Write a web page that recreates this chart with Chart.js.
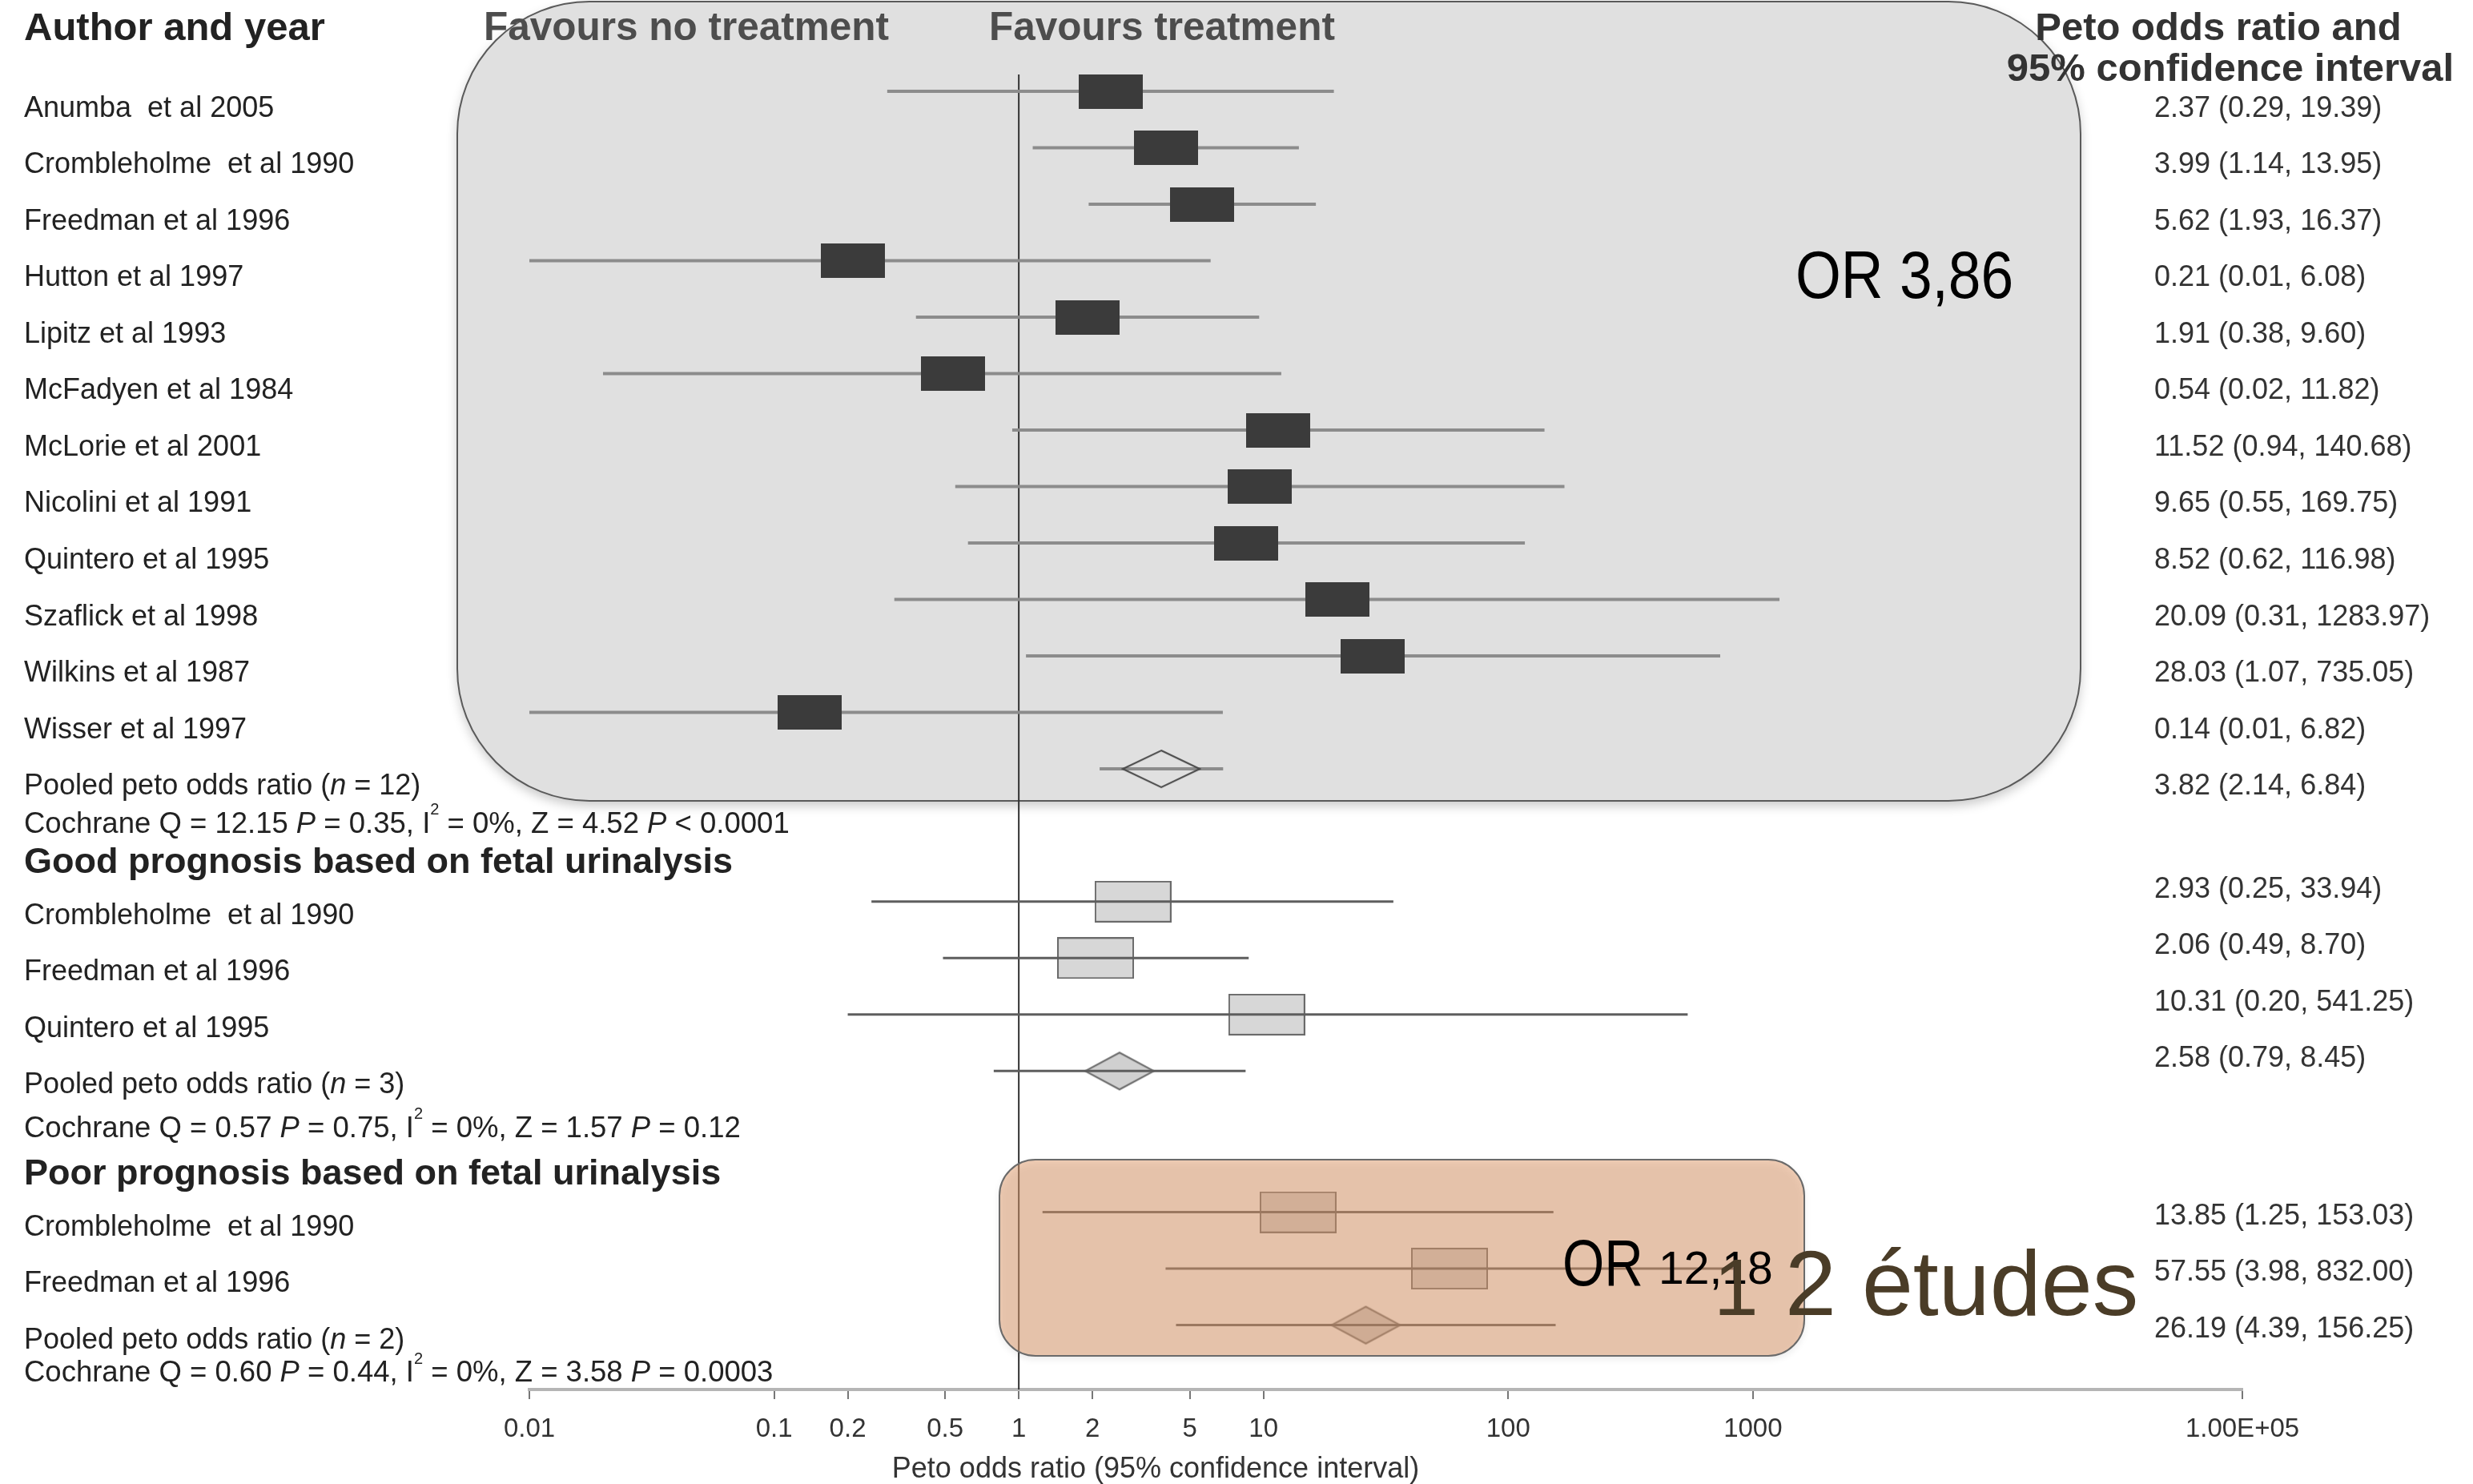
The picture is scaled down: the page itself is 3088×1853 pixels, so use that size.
<!DOCTYPE html>
<html><head><meta charset="utf-8">
<script src="https://cdn.jsdelivr.net/npm/chart.js@4.4.1/dist/chart.umd.min.js"></script>
<style>html,body{margin:0;padding:0;background:#fff;overflow:hidden}canvas{display:block}</style>
</head><body>
<canvas id="c" width="3088" height="1853"></canvas>
<script>
// ---------------- DATA ----------------
const allNames = ['Anumba  et al 2005','Crombleholme  et al 1990','Freedman et al 1996','Hutton et al 1997','Lipitz et al 1993','McFadyen et al 1984','McLorie et al 2001','Nicolini et al 1991','Quintero et al 1995','Szaflick et al 1998','Wilkins et al 1987','Wisser et al 1997'];
const allOR   = [2.37, 3.99, 5.62, 0.21, 1.91, 0.54, 11.52, 9.65, 8.52, 20.09, 28.03, 0.14];
const allLow  = [0.29, 1.14, 1.93, 0.01, 0.38, 0.02, 0.94, 0.55, 0.62, 0.31, 1.07, 0.01];
const allHigh = [19.39, 13.95, 16.37, 6.08, 9.60, 11.82, 140.68, 169.75, 116.98, 1283.97, 735.05, 6.82];

const goodNames = ['Crombleholme  et al 1990','Freedman et al 1996','Quintero et al 1995'];
const goodOR    = [2.93, 2.06, 10.31];
const goodLow   = [0.25, 0.49, 0.20];
const goodHigh  = [33.94, 8.70, 541.25];

const poorNames = ['Crombleholme  et al 1990','Freedman et al 1996'];
const poorOR    = [13.85, 57.55];
const poorLow   = [1.25, 3.98];
const poorHigh  = [153.03, 832.00];

const pooledOR   = [3.82, 2.58, 26.19];
const pooledLow  = [2.14, 0.79, 4.39];
const pooledHigh = [6.84, 8.45, 156.25];
const pooledN    = [12, 3, 2];

const cochraneQ = ['12.15', '0.57', '0.60'];
const cochraneP = ['0.35', '0.75', '0.44'];
const iSquared  = ['0%', '0%', '0%'];
const zStat     = ['4.52', '1.57', '3.58'];
const zP        = ['< 0.0001', '= 0.12', '= 0.0003'];

const groupTitles = [null, 'Good prognosis based on fetal urinalysis', 'Poor prognosis based on fetal urinalysis'];
const tickValues = [0.01, 0.1, 0.2, 0.5, 1, 2, 5, 10, 100, 1000, 100000];
const tickLabels = ['0.01', '0.1', '0.2', '0.5', '1', '2', '5', '10', '100', '1000', '1.00E+05'];
const headerLeft = 'Author and year';
const headerNo = 'Favours no treatment';
const headerYes = 'Favours treatment';
const headerRight = ['Peto odds ratio and', '95% confidence interval'];
const axisTitle = 'Peto odds ratio (95% confidence interval)';
const noteAll = 'OR 3,86';

// ---------------- LAYOUT / STYLE ----------------
const FONT = "'Liberation Sans', Arial, Helvetica, sans-serif";
const Y_MIN = -0.298, Y_MAX = 22.99;
const groupFirstRow = [0, 14.35, 19.85];
const cochraneRow = [12.99, 18.38, 22.71];
const headerRow = [null, 13.66, 19.19];
const leftOffset = [22, 18, 19];
const rightOffset = [22, -15, 5];

const groups = [
  {names: allNames, or: allOR, low: allLow, high: allHigh},
  {names: goodNames, or: goodOR, low: goodLow, high: goodHigh},
  {names: poorNames, or: poorOR, low: poorLow, high: poorHigh}
];
groups.forEach((g, gi) => {
  g.rows = g.names.map((_, k) => groupFirstRow[gi] + k);
  g.pooledRow = groupFirstRow[gi] + g.names.length;
});

function ciData(gi) {
  const g = groups[gi], d = [];
  g.or.forEach((_, k) => d.push({x: g.low[k], y: g.rows[k]}, {x: g.high[k], y: g.rows[k]}, {x: null, y: null}));
  d.push({x: pooledLow[gi], y: g.pooledRow}, {x: pooledHigh[gi], y: g.pooledRow});
  return d;
}
const pts = gi => groups[gi].or.map((v, k) => ({x: v, y: groups[gi].rows[k]}));
const poolPt = gi => [{x: pooledOR[gi], y: groups[gi].pooledRow}];

function boxCanvas(w, h, fill, stroke, lw) {
  const c = document.createElement('canvas'); c.width = w; c.height = h;
  const x = c.getContext('2d'); x.fillStyle = fill; x.fillRect(0, 0, w, h);
  if (stroke) { x.strokeStyle = stroke; x.lineWidth = lw; x.strokeRect(lw/2, lw/2, w - lw, h - lw); }
  return c;
}
function diamondCanvas(w, h, fill, stroke, lw) {
  const c = document.createElement('canvas'); c.width = w; c.height = h;
  const x = c.getContext('2d');
  x.beginPath(); x.moveTo(w/2, lw); x.lineTo(w - lw, h/2); x.lineTo(w/2, h - lw); x.lineTo(lw, h/2); x.closePath();
  if (fill) { x.fillStyle = fill; x.fill(); }
  x.strokeStyle = stroke; x.lineWidth = lw; x.stroke();
  return c;
}
const sqDark = boxCanvas(80, 43, '#3b3b3b');
const dmTop = diamondCanvas(100, 50, null, '#4a4a4a', 2);
const sqLight = boxCanvas(96, 52, '#d7d7d7', '#6a6a6a', 2);
const dmLight = diamondCanvas(90, 50, '#d0d0d0', '#6a6a6a', 2);

function ptSet(data, style, order) {
  return {type: 'scatter', data, pointStyle: style, pointRadius: 5, order, clip: false};
}
function lineSet(data, color, width, order) {
  return {type: 'line', data, borderColor: color, borderWidth: width, pointRadius: 0, spanGaps: false, tension: 0, order, clip: false};
}

function rr(ctx, x, y, w, h, r) {
  ctx.beginPath();
  ctx.moveTo(x + r, y); ctx.arcTo(x + w, y, x + w, y + h, r); ctx.arcTo(x + w, y + h, x, y + h, r);
  ctx.arcTo(x, y + h, x, y, r); ctx.arcTo(x, y, x + w, y, r); ctx.closePath();
}
function runs(ctx, x, y, parts, size) {
  let cx = x;
  for (const p of parts) {
    const fs = p.sup ? Math.round(size * 0.55) : size;
    ctx.font = (p.i ? 'italic ' : '') + fs + 'px ' + FONT;
    ctx.fillText(p.t, cx, p.sup ? y - size * 0.5 : y);
    cx += ctx.measureText(p.t).width;
  }
}

const decor = {
  id: 'decor',
  beforeDraw(chart) {
    const ctx = chart.ctx;
    ctx.save();
    ctx.fillStyle = '#ffffff'; ctx.fillRect(0, 0, chart.width, chart.height);
    ctx.shadowColor = 'rgba(0,0,0,0.22)'; ctx.shadowBlur = 14; ctx.shadowOffsetY = 6;
    rr(ctx, 571, 2, 2027, 998, 165);
    ctx.fillStyle = '#e0e0e0'; ctx.fill();
    ctx.shadowColor = 'transparent';
    ctx.strokeStyle = '#5a5a5a'; ctx.lineWidth = 2; ctx.stroke();
    ctx.restore();
  },
  afterDatasetsDraw(chart) {
    const ctx = chart.ctx;
    ctx.save();
    ctx.shadowColor = 'rgba(0,0,0,0.18)'; ctx.shadowBlur = 10; ctx.shadowOffsetY = 4;
    rr(ctx, 1248, 1448, 1005, 245, 45);
    ctx.fillStyle = 'rgba(225,155,107,0.5)'; ctx.fill();
    ctx.shadowColor = 'transparent';
    ctx.strokeStyle = '#6a6a6a'; ctx.lineWidth = 2; ctx.stroke();
    ctx.restore();
  },
  afterDraw(chart) {
    const ctx = chart.ctx, ys = chart.scales.y;
    const py = r => ys.getPixelForValue(r);
    ctx.save();
    ctx.textBaseline = 'middle';
    // headers
    ctx.textAlign = 'left';
    ctx.fillStyle = '#222'; ctx.font = 'bold 49px ' + FONT;
    ctx.fillText(headerLeft, 30, 36);
    ctx.fillStyle = '#4d4d4d'; ctx.font = 'bold 49.5px ' + FONT;
    ctx.fillText(headerNo, 604, 36);
    ctx.fillText(headerYes, 1235, 36);
    ctx.fillStyle = '#333'; ctx.textAlign = 'center'; ctx.font = 'bold 49px ' + FONT;
    ctx.fillText(headerRight[0], 2770, 36);
    ctx.fillText(headerRight[1], 2785, 87);
    // rows
    ctx.textAlign = 'left';
    groups.forEach((g, gi) => {
      ctx.fillStyle = '#222';
      if (groupTitles[gi]) { ctx.font = 'bold 45px ' + FONT; ctx.fillText(groupTitles[gi], 30, py(headerRow[gi])); }
      ctx.font = '36px ' + FONT;
      g.names.forEach((n, k) => ctx.fillText(n, 30, py(g.rows[k]) + leftOffset[gi]));
      runs(ctx, 30, py(g.pooledRow) + leftOffset[gi], [{t: 'Pooled peto odds ratio ('}, {t: 'n', i: 1}, {t: ' = ' + pooledN[gi] + ')'}], 36);
      runs(ctx, 30, py(cochraneRow[gi]), [
        {t: 'Cochrane Q = ' + cochraneQ[gi] + ' '}, {t: 'P', i: 1}, {t: ' = ' + cochraneP[gi] + ', I'}, {t: '2', sup: 1},
        {t: ' = ' + iSquared[gi] + ', Z = ' + zStat[gi] + ' '}, {t: 'P', i: 1}, {t: ' ' + zP[gi]}], 36.5);
      ctx.fillStyle = '#333'; ctx.font = '36px ' + FONT;
      const fmt = (o, l, h) => o.toFixed(2) + ' (' + l.toFixed(2) + ', ' + h.toFixed(2) + ')';
      g.or.forEach((v, k) => ctx.fillText(fmt(v, g.low[k], g.high[k]), 2690, py(g.rows[k]) + rightOffset[gi]));
      ctx.fillText(fmt(pooledOR[gi], pooledLow[gi], pooledHigh[gi]), 2690, py(g.pooledRow) + rightOffset[gi]);
    });
    // axis title
    ctx.fillStyle = '#333'; ctx.font = '36px ' + FONT; ctx.textAlign = 'center';
    ctx.fillText(axisTitle, 1443, 1835);
    // annotations
    ctx.textAlign = 'left'; ctx.textBaseline = 'alphabetic'; ctx.fillStyle = '#000';
    ctx.save(); ctx.translate(2242, 372); ctx.scale(0.87, 1); ctx.font = '84px ' + FONT; ctx.fillText(noteAll, 0, 0); ctx.restore();
    ctx.save(); ctx.translate(1951, 1605); ctx.scale(0.83, 1); ctx.font = '81px ' + FONT; ctx.fillText('OR', 0, 0); ctx.restore();
    ctx.font = '57px ' + FONT; ctx.fillText('12,18', 2071, 1603);
    ctx.fillStyle = '#4a3c27';
    ctx.font = '100px ' + FONT; ctx.fillText('1', 2140, 1642);
    ctx.font = '115px ' + FONT; ctx.fillText('2 études', 2229, 1642);
    ctx.restore();
  }
};

new Chart(document.getElementById('c'), {
  data: {
    datasets: [
      lineSet([{x: 1, y: Y_MIN}, {x: 1, y: Y_MAX}], '#333333', 2, 100),
      ptSet(pts(1).concat(pts(2)), sqLight, 60),
      ptSet(poolPt(1).concat(poolPt(2)), dmLight, 60),
      lineSet(ciData(0), '#8c8c8c', 4, 40),
      lineSet(ciData(1), '#5e5e5e', 3, 40),
      lineSet(ciData(2), '#5e5e5e', 3, 40),
      ptSet(pts(0), sqDark, 10),
      ptSet(poolPt(0), dmTop, 10)
    ]
  },
  options: {
    responsive: false, animation: false, devicePixelRatio: 1,
    layout: {padding: {left: 661, right: 288, top: 93, bottom: 0}},
    plugins: {legend: {display: false}, tooltip: {enabled: false}},
    scales: {
      x: {
        type: 'logarithmic', min: 0.01, max: 100000, position: 'bottom',
        afterBuildTicks: s => { s.ticks = tickValues.map(v => ({value: v})); },
        afterFit: s => { s.height = 118; },
        ticks: {autoSkip: false, maxRotation: 0, padding: 18, color: '#333',
          font: {size: 33, family: FONT},
          callback: (v, i) => tickLabels[i]},
        grid: {drawOnChartArea: false, drawTicks: true, tickLength: 12, color: '#777', lineWidth: 2},
        border: {display: true, color: '#b5b5b5', width: 4},
        title: {display: false}
      },
      y: {type: 'linear', min: Y_MIN, max: Y_MAX, reverse: true, display: false}
    }
  },
  plugins: [decor]
});
</script>
</body></html>
